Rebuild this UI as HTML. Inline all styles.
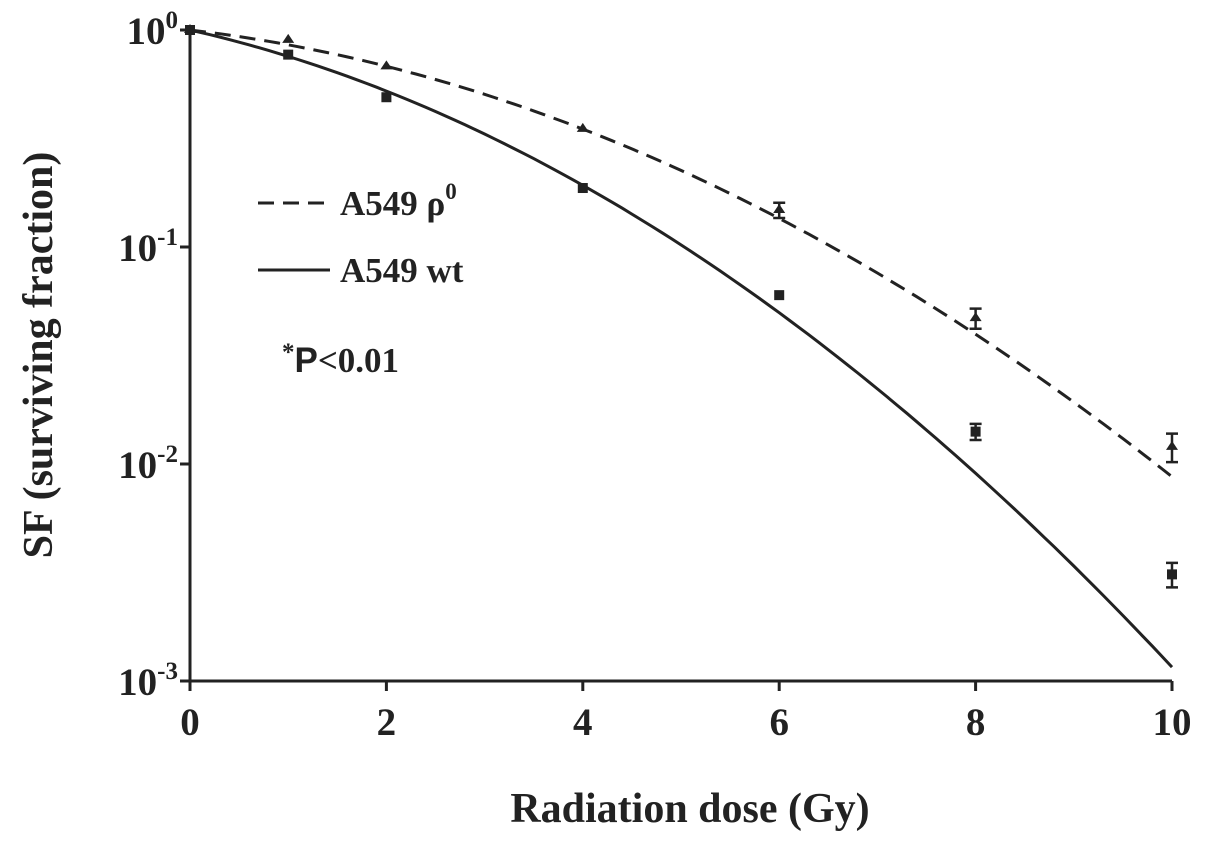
<!DOCTYPE html>
<html><head><meta charset="utf-8"><style>
body{margin:0;background:#fff;}
svg text{font-family:"Liberation Serif",serif;font-weight:bold;fill:#222;}
</style></head><body>
<svg id="chart" width="1205" height="844" viewBox="0 0 1205 844"></svg>
<script>
const doses=[0,1,2,4,6,8,10];
const rhoValues=[1,0.90,0.68,0.35,0.148,0.047,0.012];
const rhoErr=[0,0,0,0,0.012,0.005,0.0018];
const wtValues=[1,0.77,0.49,0.187,0.06,0.0141,0.0031];
const wtErr=[0,0,0,0,0,0.0012,0.0004];
const rhoFit=[0.122,0.0352];
const wtFit=[0.236,0.044];
const xTicks=[0,2,4,6,8,10];
const yTicks=[0,-1,-2,-3];

const NS="http://www.w3.org/2000/svg";
const svg=document.getElementById('chart');
const X0=190,X1=1172,Y0=30,DEC=217;
const xs=d=>X0+(d/10)*(X1-X0);
const ys=v=>Y0-Math.log10(v)*DEC;
function mk(t,a,p){const e=document.createElementNS(NS,t);for(const k in a)e.setAttribute(k,a[k]);(p||svg).appendChild(e);return e;}

let e;
e=mk('line',{x1:X0,y1:Y0,x2:X0,y2:ys(1e-3),stroke:'#222','stroke-width':3});


e=mk('line',{x1:X0,y1:ys(1e-3),x2:X1,y2:ys(1e-3),stroke:'#222','stroke-width':3});


xTicks.forEach(t=>{
  e=mk('line',{x1:xs(t),y1:ys(1e-3),x2:xs(t),y2:ys(1e-3)+10,stroke:'#222','stroke-width':3});
  
  
  e=mk('text',{x:xs(t),y:ys(1e-3)+54,'text-anchor':'middle','font-size':39});
  e.textContent=t;
  
  
});
yTicks.forEach(p=>{
  const y=ys(Math.pow(10,p));
  e=mk('line',{x1:X0-10,y1:y,x2:X0,y2:y,stroke:'#222','stroke-width':3});
  
  
  e=mk('text',{x:X0-12,y:y+14,'text-anchor':'end','font-size':39});
  e.innerHTML='10<tspan dy="-16" font-size="25">'+p+'</tspan>';
  
  
});
function curve(fit,dash,name){
  let d='';
  for(let i=0;i<=100;i++){const D=i/10;const v=Math.exp(-fit[0]*D-fit[1]*D*D);d+=(i?'L':'M')+xs(D).toFixed(1)+','+ys(v).toFixed(1);}
  const p=mk('path',{d:d,fill:'none',stroke:'#222','stroke-width':3,'stroke-dasharray':dash});
  
  
}
curve(rhoFit,'16,9','rho0-fit-curve');
curve(wtFit,'none','wt-fit-curve');
function points(vals,errs,shape,name){
  vals.forEach((v,i)=>{
    const x=xs(doses[i]),y=ys(v);
    if(errs[i]>0){
      const yt=ys(v+errs[i]),yb=ys(v-errs[i]);
      const g=mk('path',{d:`M${x},${yt}V${yb}M${x-6},${yt}H${x+6}M${x-6},${yb}H${x+6}`,stroke:'#222','stroke-width':2.5,fill:'none'});
      
      
    }
    let m;
    if(shape==='sq') m=mk('rect',{x:x-5,y:y-5,width:10,height:10,fill:'#222'});
    else m=mk('path',{d:`M${x},${y-6}L${x+6},${y+3}L${x-6},${y+3}Z`,fill:'#222'});
    
    
  });
}
points(rhoValues,rhoErr,'tri','rho0');
points(wtValues,wtErr,'sq','wt');

e=mk('line',{x1:258,y1:203,x2:330,y2:203,stroke:'#222','stroke-width':3,'stroke-dasharray':'16,9'});


e=mk('text',{x:340,y:215,'font-size':35});
e.innerHTML='A549 ρ<tspan dy="-16" font-size="23">0</tspan>';


e=mk('line',{x1:258,y1:270,x2:330,y2:270,stroke:'#222','stroke-width':3});


e=mk('text',{x:340,y:282,'font-size':35});
e.textContent='A549 wt';


e=mk('text',{x:282,y:372,'font-size':35});
e.innerHTML='<tspan dy="-12" font-size="25">*</tspan><tspan dy="12" style="font-family:\'Liberation Sans\',sans-serif">P</tspan>&lt;0.01';


e=mk('text',{x:690,y:822,'text-anchor':'middle','font-size':42});
e.textContent='Radiation dose (Gy)';


e=mk('text',{x:0,y:0,'text-anchor':'middle','font-size':42,transform:'translate(52,355) rotate(-90)'});
e.textContent='SF (surviving fraction)';


</script>
</body></html>
